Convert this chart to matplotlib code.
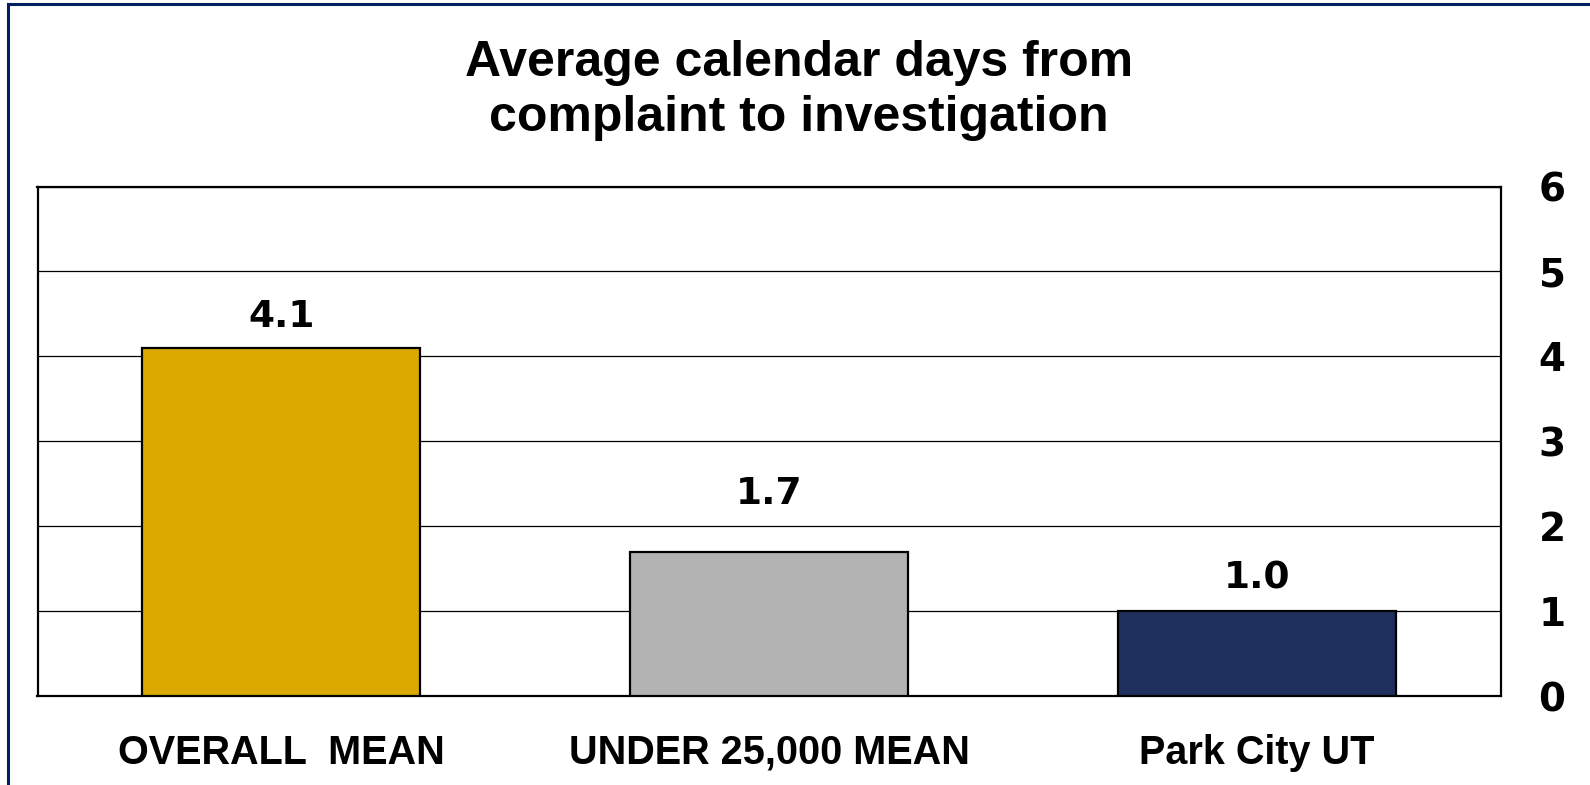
import matplotlib
matplotlib.use("Agg")
import matplotlib.pyplot as plt
from matplotlib.lines import Line2D
from matplotlib import font_manager

categories = ["OVERALL  MEAN", "UNDER 25,000 MEAN", "Park City UT"]
values = [4.1, 1.7, 1.0]
value_labels = ["4.1", "1.7", "1.0"]
bar_colors = ["#DBA900", "#B3B3B3", "#1F305E"]
y_ticks = [0, 1, 2, 3, 4, 5, 6]
title_lines = ["Average calendar days from", "complaint to investigation"]

names = {f.name for f in font_manager.fontManager.ttflist}
cond = "Liberation Sans Narrow" if "Liberation Sans Narrow" in names else "Liberation Sans"

W, H = 1590, 785
fig = plt.figure(figsize=(W / 100, H / 100), dpi=100)
fig.patch.set_facecolor("white")

# outer blue border (only top and left visible)
fig.add_artist(Line2D([7.5 / W, 7.5 / W], [0, 1 - 4 / H], color="#002060", lw=2.2, transform=fig.transFigure))
fig.add_artist(Line2D([7.5 / W, 1], [1 - 4 / H, 1 - 4 / H], color="#002060", lw=2.2, transform=fig.transFigure))

left, right, top, bottom = 37.5, 1501, 186.5, 696
ax = fig.add_axes([left / W, 1 - bottom / H, (right - left) / W, (bottom - top) / H])

x = list(range(len(categories)))
bars = ax.bar(x, values, width=0.57, color=bar_colors, edgecolor="black", linewidth=1.6, zorder=3)
ax.set_xlim(-0.5, len(categories) - 0.5)
ax.set_ylim(0, 6)
ax.set_yticks(y_ticks)
ax.yaxis.tick_right()
ax.tick_params(axis="y", length=0, pad=27)
for lab in ax.get_yticklabels():
    lab.set_fontfamily("DejaVu Sans")
    lab.set_fontweight("bold")
    lab.set_fontsize(28)
ax.set_xticks(x)
ax.set_xticklabels(categories)
ax.tick_params(axis="x", length=0, pad=27)
for lab in ax.get_xticklabels():
    lab.set_fontfamily(cond)
    lab.set_fontweight("bold")
    lab.set_fontsize(28.5)
ax.grid(axis="y", color="black", linewidth=0.9, zorder=0)
for s in ax.spines.values():
    s.set_linewidth(1.6)
    s.set_color("black")

label_offsets = [15, 34, 16]
for xi, v, t, off in zip(x, values, value_labels, label_offsets):
    ax.annotate(t, (xi, v), xytext=(0, off), textcoords="offset points",
                ha="center", va="baseline", fontsize=27, fontweight="bold",
                family="DejaVu Sans", zorder=4)

fig.text(799 / W, 1 - 76 / H, title_lines[0], ha="center", va="baseline",
         fontsize=36, fontweight="bold", family=cond)
fig.text(799 / W, 1 - 131 / H, title_lines[1], ha="center", va="baseline",
         fontsize=36, fontweight="bold", family=cond)

fig.savefig("out.png", dpi=100, facecolor="white")
